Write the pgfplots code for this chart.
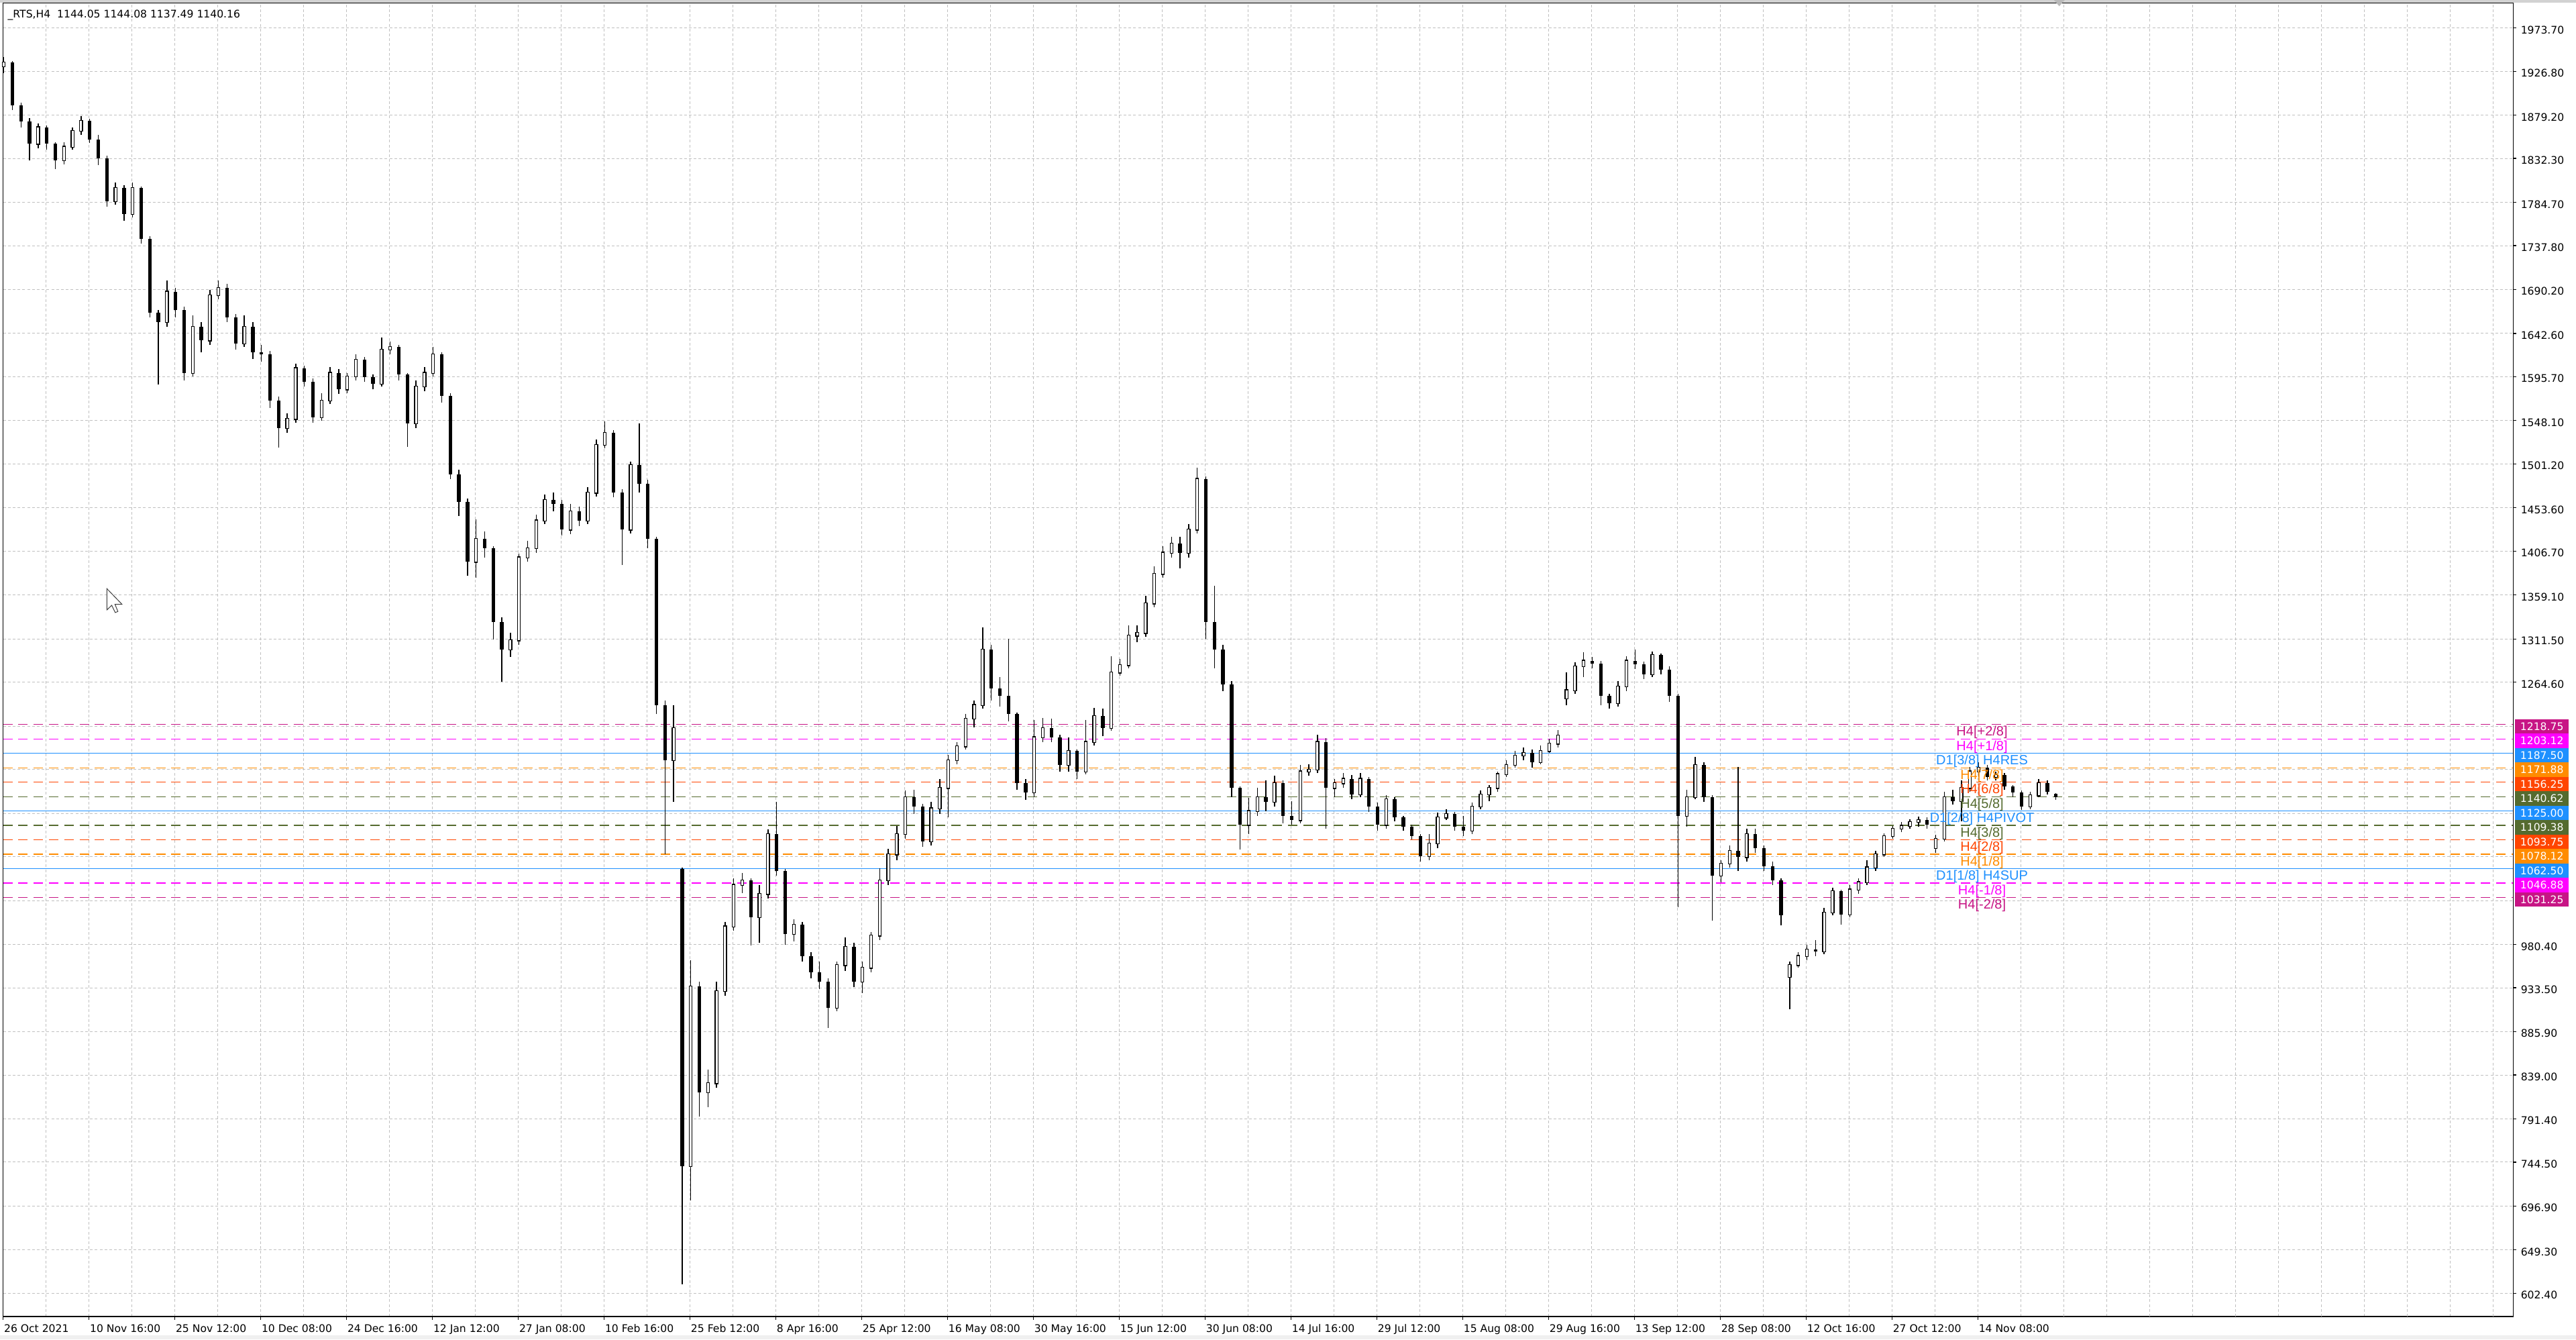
\documentclass[border=0pt]{standalone}
\usepackage{pgfplots}
\pgfplotsset{compat=1.18}
\usepackage{pgfplotstable}
\usepackage{fontspec}
\setmainfont{DejaVu Sans}
\newfontfamily\arialfont{Liberation Sans}
\newcommand\tf{\fontsize{3.9}{4.5}\selectfont}
\newcommand\lf{\arialfont\fontsize{5}{6}\selectfont}
\definecolor{mvr}{HTML}{C71585}
\definecolor{mag}{HTML}{FF00FF}
\definecolor{dblue}{HTML}{1E90FF}
\definecolor{dorange}{HTML}{FF8C00}
\definecolor{ored}{HTML}{FF4500}
\definecolor{olive}{HTML}{556B2F}
\definecolor{gridc}{HTML}{C0C0C0}

\pgfplotstableread{
u o h l c
0.02 1932 1942 1925 1936
0.82 1848 1870 1843 1866
1.42 1830 1850 1826 1845
1.62 1845 1866 1842 1862
1.82 1862 1878 1858 1873
2.62 1786 1806 1782 1800
3.02 1772 1806 1768 1800
3.82 1655 1700 1650 1688
4.42 1600 1662 1596 1650
4.82 1635 1690 1630 1684
5.02 1684 1700 1680 1692
5.62 1632 1662 1628 1650
6.62 1540 1556 1535 1550
6.82 1550 1610 1546 1605
7.42 1552 1578 1548 1570
7.62 1570 1606 1566 1600
8.02 1582 1600 1578 1596
8.22 1596 1620 1592 1614
8.82 1588 1638 1585 1625
9.02 1625 1634 1620 1628
9.62 1545 1592 1540 1585
9.82 1585 1606 1580 1600
10.02 1600 1628 1596 1620
11.02 1395 1441 1378 1420
11.82 1300 1318 1292 1310
12.02 1310 1404 1305 1400
12.22 1400 1418 1395 1410
12.42 1410 1446 1405 1440
12.62 1440 1468 1436 1462
13.22 1430 1458 1425 1450
13.62 1440 1476 1436 1470
13.82 1470 1528 1466 1522
14.02 1522 1547 1518 1535
14.62 1430 1504 1426 1500
15.62 1180 1240 1135 1215
16.02 740 963 703 935
16.42 820 845 804 830
16.62 830 940 825 930
16.82 930 1005 925 1000
17.02 1000 1052 995 1045
17.22 1045 1058 1036 1050
17.62 1010 1045 982 1035
17.82 1035 1105 1030 1100
18.42 992 1008 984 1002
19.42 912 962 908 958
19.62 958 988 952 978
20.02 940 962 928 955
20.22 955 994 950 990
20.42 990 1063 985 1050
20.62 1050 1084 1045 1078
20.82 1078 1109 1072 1100
21.02 1100 1147 1095 1140
21.62 1092 1135 1088 1128
21.82 1128 1160 1122 1150
22.02 1150 1186 1118 1180
22.22 1180 1200 1176 1195
22.42 1195 1230 1192 1225
22.62 1225 1245 1216 1240
22.82 1240 1324 1236 1300
24.02 1145 1224 1140 1205
24.22 1205 1226 1200 1215
24.82 1175 1205 1168 1190
25.22 1168 1224 1165 1200
25.42 1200 1237 1196 1228
25.82 1215 1293 1212 1275
26.02 1275 1290 1272 1283
26.22 1283 1326 1280 1315
26.42 1315 1326 1308 1318
26.62 1318 1358 1314 1350
26.82 1350 1390 1346 1382
27.02 1382 1412 1378 1405
27.22 1405 1422 1400 1415
27.62 1405 1436 1400 1430
27.82 1430 1497 1426 1485
29.02 1110 1139 1100 1125
29.22 1125 1150 1120 1140
29.62 1135 1163 1130 1155
30.22 1115 1175 1112 1168
30.42 1168 1176 1163 1170
30.62 1170 1208 1166 1200
31.02 1150 1160 1140 1155
31.22 1155 1166 1150 1160
31.62 1143 1166 1140 1160
32.22 1110 1142 1106 1138
33.22 1076 1100 1072 1090
33.42 1090 1123 1085 1118
33.62 1118 1127 1115 1122
34.22 1104 1134 1100 1130
34.42 1130 1147 1127 1143
34.62 1143 1153 1136 1150
34.82 1150 1168 1146 1165
35.02 1165 1180 1162 1175
35.22 1175 1190 1172 1185
35.42 1185 1194 1180 1188
35.82 1178 1196 1176 1190
36.02 1190 1203 1188 1198
36.22 1198 1213 1194 1207
36.42 1247 1275 1240 1256
36.62 1256 1286 1252 1282
36.82 1282 1297 1270 1288
37.62 1242 1266 1238 1260
37.82 1260 1293 1255 1288
38.42 1273 1298 1270 1294
39.22 1120 1148 1108 1140
39.42 1140 1184 1138 1175
40.02 1055 1072 1048 1068
40.22 1068 1088 1064 1082
40.62 1075 1106 1070 1100
41.62 945 962 910 958
41.82 958 972 955 968
42.02 968 980 963 975
42.42 973 1020 970 1015
42.62 1015 1042 1012 1038
43.02 1013 1045 1010 1040
43.22 1040 1052 1035 1048
43.42 1048 1072 1045 1064
43.62 1064 1082 1060 1078
43.82 1078 1101 1075 1098
44.02 1098 1109 1095 1106
44.22 1106 1113 1102 1109
44.42 1109 1116 1106 1113
44.62 1113 1119 1108 1115
45.02 1085 1099 1080 1095
45.22 1095 1146 1092 1140
45.62 1136 1158 1114 1150
45.82 1150 1173 1146 1168
46.02 1168 1178 1162 1172
46.42 1162 1168 1158 1164
47.22 1130 1146 1127 1142
47.42 1142 1160 1140 1155
}\bull

\pgfplotstableread{
u o h l c
0.22 1936 1938 1885 1890
0.42 1890 1893 1866 1872
0.62 1872 1876 1830 1848
1.02 1866 1868 1842 1848
1.22 1848 1850 1821 1830
2.02 1873 1875 1849 1853
2.22 1853 1858 1825 1832
2.42 1832 1835 1780 1786
2.82 1800 1803 1765 1772
3.22 1800 1802 1740 1745
3.42 1745 1748 1660 1665
3.62 1665 1668 1587 1655
4.02 1688 1692 1660 1668
4.22 1668 1672 1592 1600
4.62 1650 1655 1622 1635
5.22 1692 1696 1655 1660
5.42 1660 1664 1625 1632
5.82 1650 1655 1615 1622
6.02 1622 1630 1612 1620
6.22 1620 1624 1562 1570
6.42 1570 1574 1519 1540
7.02 1605 1608 1585 1590
7.22 1590 1594 1546 1552
7.82 1600 1604 1577 1582
8.42 1614 1617 1590 1595
8.62 1595 1598 1582 1588
9.22 1628 1630 1592 1598
9.42 1598 1600 1520 1545
10.22 1620 1622 1568 1575
10.42 1575 1578 1485 1490
10.62 1490 1495 1445 1460
10.82 1460 1464 1380 1395
11.22 1420 1428 1400 1410
11.42 1410 1412 1311 1330
11.62 1330 1335 1265 1300
12.82 1462 1470 1450 1458
13.02 1458 1462 1424 1430
13.42 1450 1455 1434 1440
14.22 1535 1538 1465 1470
14.42 1470 1474 1392 1430
14.82 1500 1545 1470 1480
15.02 1480 1484 1410 1420
15.22 1420 1422 1230 1240
15.42 1240 1245 1078 1180
15.82 1062 1064 612 740
16.22 935 940 794 820
17.42 1050 1052 979 1010
18.02 1100 1135 1055 1060
18.22 1060 1062 980 992
18.62 1002 1005 962 968
18.82 968 972 944 950
19.02 950 962 932 940
19.22 940 944 890 912
19.82 978 982 934 940
21.22 1140 1148 1122 1130
21.42 1130 1133 1086 1092
23.02 1300 1305 1245 1258
23.22 1258 1270 1238 1250
23.42 1250 1312 1222 1230
23.62 1230 1232 1148 1155
23.82 1155 1160 1137 1145
24.42 1215 1225 1200 1205
24.62 1205 1208 1168 1175
25.02 1190 1192 1160 1168
25.62 1228 1236 1206 1215
27.42 1415 1422 1388 1405
28.02 1485 1488 1312 1330
28.22 1330 1369 1280 1300
28.42 1300 1305 1255 1262
28.62 1262 1266 1140 1150
28.82 1150 1152 1083 1110
29.42 1140 1158 1125 1135
29.82 1155 1158 1112 1120
30.02 1120 1136 1110 1115
30.82 1200 1204 1106 1150
31.42 1160 1164 1138 1143
31.82 1160 1162 1124 1130
32.02 1130 1134 1104 1110
32.42 1138 1140 1114 1118
32.62 1118 1120 1104 1108
32.82 1108 1110 1094 1098
33.02 1098 1100 1070 1076
33.82 1122 1124 1104 1108
34.02 1108 1120 1098 1104
35.62 1188 1192 1172 1178
37.02 1288 1292 1280 1285
37.22 1285 1288 1240 1250
37.42 1250 1252 1236 1242
38.02 1288 1300 1279 1284
38.22 1284 1287 1268 1273
38.62 1294 1296 1273 1278
38.82 1278 1282 1243 1250
39.02 1250 1252 1021 1120
39.62 1175 1178 1135 1140
39.82 1140 1142 1006 1055
40.42 1082 1173 1060 1075
40.82 1100 1106 1080 1085
41.02 1085 1088 1060 1065
41.22 1065 1070 1045 1050
41.42 1050 1052 1001 1012
42.22 975 985 968 973
42.82 1038 1040 1002 1013
44.82 1115 1118 1106 1110
45.42 1140 1148 1132 1136
46.22 1172 1175 1158 1162
46.62 1164 1166 1148 1152
46.82 1152 1153 1140 1145
47.02 1145 1147 1126 1130
47.62 1155 1158 1143 1146
47.82 1144.05 1144.08 1137.49 1140.16
}\bear

\begin{document}
\begin{tikzpicture}
\path[use as bounding box] (-1.125pt,-8.5pt) rectangle (958.875pt,490.5pt);
\fill[white] (-1.125pt,-8.5pt) rectangle (958.875pt,490.5pt);
\fill[gray!35] (-1.125pt,489.4pt) rectangle (958.875pt,490.5pt);
\fill[gray!12] (-1.125pt,-8.5pt) rectangle (958.875pt,-7.1pt);
\begin{axis}[
  at={(0pt,0pt)}, anchor=south west,
  width=935.4pt, height=489.375pt, scale only axis,
  xmin=0, xmax=58.47, ymin=577.2, ymax=2000.7,
  clip=false,
  axis line style={black, line width=0.3pt},
  xtick={0,2,...,46},
  xticklabels={26 Oct 2021,10 Nov 16:00,25 Nov 12:00,10 Dec 08:00,24 Dec 16:00,12 Jan 12:00,27 Jan 08:00,10 Feb 16:00,25 Feb 12:00,8 Apr 16:00,25 Apr 12:00,16 May 08:00,30 May 16:00,15 Jun 12:00,30 Jun 08:00,14 Jul 16:00,29 Jul 12:00,15 Aug 08:00,29 Aug 16:00,13 Sep 12:00,28 Sep 08:00,12 Oct 16:00,27 Oct 12:00,14 Nov 08:00},
  minor xtick={1,3,...,57},
  extra x ticks={48,50,...,58},
  extra x tick labels={},
  extra x tick style={major tick length=0pt, grid=major},
  ytick={602.4,649.3,696.9,744.5,791.4,839.0,885.9,933.5,980.4,1264.6,1311.5,1359.1,1406.7,1453.6,1501.2,1548.1,1595.7,1642.6,1690.2,1737.8,1784.7,1832.3,1879.2,1926.8,1973.7},
  yticklabels={602.40,649.30,696.90,744.50,791.40,839.00,885.90,933.50,980.40,1264.60,1311.50,1359.10,1406.70,1453.60,1501.20,1548.10,1595.70,1642.60,1690.20,1737.80,1784.70,1832.30,1879.20,1926.80,1973.70},
  extra y ticks={1217.0,1170.1,1122.5,1075.6,1028.0},
  extra y tick labels={},
  extra y tick style={major tick length=0pt, grid=major},
  grid=both,
  major grid style={gridc, line width=0.25pt, dash pattern=on 1pt off 0.8pt},
  minor grid style={gridc, line width=0.25pt, dash pattern=on 1pt off 0.8pt},
  minor tick length=0pt,
  major tick length=1.2pt,
  tick align=outside,
  tick style={black, line width=0.3pt},
  xtick pos=bottom, ytick pos=right,
  yticklabel pos=right,
  xticklabel style={font=\tf, anchor=north west, inner sep=0pt, xshift=0.2pt, yshift=-1.5pt},
  yticklabel style={font=\tf, anchor=west, inner sep=0pt, xshift=1.5pt, yshift=-0.7pt},
  lev/.style={line width=0.35pt, dash pattern=on 3.5pt off 2.2pt},
  slev/.style={line width=0.35pt},
  cndl/.style={draw=none, mark=none, forget plot, error bars/.cd, y dir=plus, y explicit, error mark=none},
]
% level lines
\addplot[lev, mvr] coordinates {(0,1218.75) (58.47,1218.75)};
\addplot[lev, mag] coordinates {(0,1203.12) (58.47,1203.12)};
\addplot[slev, dblue] coordinates {(0,1187.50) (58.47,1187.50)};
\addplot[lev, dorange] coordinates {(0,1171.88) (58.47,1171.88)};
\addplot[lev, ored] coordinates {(0,1156.25) (58.47,1156.25)};
\addplot[lev, olive] coordinates {(0,1140.62) (58.47,1140.62)};
\addplot[slev, dblue] coordinates {(0,1125.00) (58.47,1125.00)};
\addplot[lev, olive] coordinates {(0,1109.38) (58.47,1109.38)};
\addplot[lev, ored] coordinates {(0,1093.75) (58.47,1093.75)};
\addplot[lev, dorange] coordinates {(0,1078.12) (58.47,1078.12)};
\addplot[slev, dblue] coordinates {(0,1062.50) (58.47,1062.50)};
\addplot[lev, mag] coordinates {(0,1046.88) (58.47,1046.88)};
\addplot[lev, mvr] coordinates {(0,1031.25) (58.47,1031.25)};
% wicks
\addplot[cndl, error bar style={draw=black, solid, line width=0.35pt}]
  table[x=u, y=l, y error expr=\thisrow{h}-\thisrow{l}] {\bull};
\addplot[cndl, error bar style={draw=black, solid, line width=0.35pt}]
  table[x=u, y=l, y error expr=\thisrow{h}-\thisrow{l}] {\bear};
% bear bodies
\addplot[cndl, error bar style={draw=black, solid, line width=1.35pt}]
  table[x=u, y=c, y error expr=\thisrow{o}-\thisrow{c}] {\bear};
% bull bodies
\addplot[cndl, error bar style={draw=black, solid, line width=1.35pt}]
  table[x=u, y expr=\thisrow{o}-0.9, y error expr=\thisrow{c}-\thisrow{o}+1.8] {\bull};
\addplot[cndl, error bar style={draw=white, solid, line width=0.75pt}]
  table[x=u, y=o, y error expr=\thisrow{c}-\thisrow{o}] {\bull};
% level labels
\node[text=mvr, font=\lf, yshift=-3pt] at (axis cs:46.1,1218.75) {H4[+2/8]};
\node[text=mag, font=\lf, yshift=-3pt] at (axis cs:46.1,1203.12) {H4[+1/8]};
\node[text=dblue, font=\lf, yshift=-3pt] at (axis cs:46.1,1187.50) {D1[3/8] H4RES};
\node[text=dorange, font=\lf, yshift=-3pt] at (axis cs:46.1,1171.88) {H4[7/8]};
\node[text=ored, font=\lf, yshift=-3pt] at (axis cs:46.1,1156.25) {H4[6/8]};
\node[text=olive, font=\lf, yshift=-3pt] at (axis cs:46.1,1140.62) {H4[5/8]};
\node[text=dblue, font=\lf, yshift=-3pt] at (axis cs:46.1,1125.00) {D1[2/8] H4PIVOT};
\node[text=olive, font=\lf, yshift=-3pt] at (axis cs:46.1,1109.38) {H4[3/8]};
\node[text=ored, font=\lf, yshift=-3pt] at (axis cs:46.1,1093.75) {H4[2/8]};
\node[text=dorange, font=\lf, yshift=-3pt] at (axis cs:46.1,1078.12) {H4[1/8]};
\node[text=dblue, font=\lf, yshift=-3pt] at (axis cs:46.1,1062.50) {D1[1/8] H4SUP};
\node[text=mag, font=\lf, yshift=-3pt] at (axis cs:46.1,1046.88) {H4[-1/8]};
\node[text=mvr, font=\lf, yshift=-3pt] at (axis cs:46.1,1031.25) {H4[-2/8]};
% price boxes
\tikzset{pbox/.style={fill=#1, text=white, font=\tf, anchor=west, inner xsep=2pt, inner ysep=0pt, text width=16pt, minimum height=5.45pt, xshift=0.5pt, yshift=-0.7pt}}
\node[pbox=mvr] at (axis cs:58.47,1218.75) {1218.75};
\node[pbox=mag] at (axis cs:58.47,1203.12) {1203.12};
\node[pbox=dblue] at (axis cs:58.47,1187.50) {1187.50};
\node[pbox=dorange] at (axis cs:58.47,1171.88) {1171.88};
\node[pbox=ored] at (axis cs:58.47,1156.25) {1156.25};
\node[pbox=olive] at (axis cs:58.47,1140.62) {1140.62};
\node[pbox=dblue] at (axis cs:58.47,1125.00) {1125.00};
\node[pbox=olive] at (axis cs:58.47,1109.38) {1109.38};
\node[pbox=ored] at (axis cs:58.47,1093.75) {1093.75};
\node[pbox=dorange] at (axis cs:58.47,1078.12) {1078.12};
\node[pbox=dblue] at (axis cs:58.47,1062.50) {1062.50};
\node[pbox=mag] at (axis cs:58.47,1046.88) {1046.88};
\node[pbox=mvr] at (axis cs:58.47,1031.25) {1031.25};
% title
\node[font=\tf, anchor=west, inner sep=0pt, xshift=1.6pt, yshift=-4.6pt] at (rel axis cs:0,1) {\_RTS,H4\ \ 1144.05 1144.08 1137.49 1140.16};
% cursor
\draw[fill=white, draw=black!75, line width=0.25pt, line join=miter]
  (axis cs:2.42,1366) -- ++(0pt,-7.9pt) -- ++(1.8pt,1.7pt) -- ++(1.3pt,-2.7pt) -- ++(1.0pt,0.4pt) -- ++(-1.1pt,2.7pt) -- ++(2.6pt,0pt) -- cycle;
% shift marker
\fill[gray!55] ([xshift=-2pt,yshift=1.1pt]axis cs:47.9,2000.7) -- ([xshift=2pt,yshift=1.1pt]axis cs:47.9,2000.7) -- ([yshift=-1.2pt]axis cs:47.9,2000.7) -- cycle;
\end{axis}
\end{tikzpicture}
\end{document}
